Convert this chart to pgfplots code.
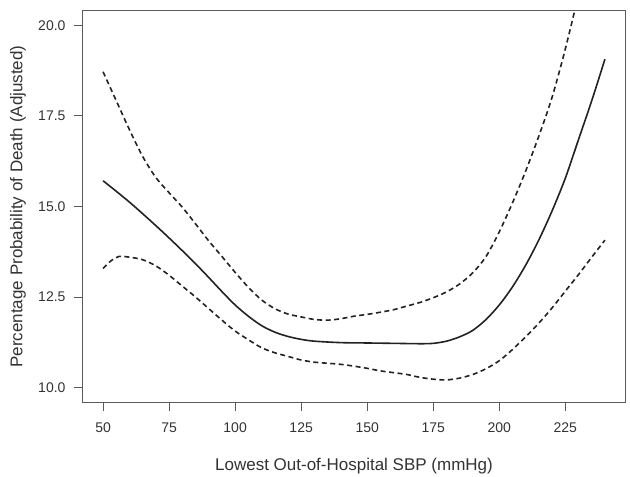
\documentclass[border=0pt]{standalone}
\usepackage{fontspec}
\setmainfont{Liberation Sans}
\usepackage{pgfplots}
\pgfplotsset{compat=1.18}

\definecolor{frame}{HTML}{5A5A5A}
\definecolor{curve}{HTML}{222222}
\definecolor{txt}{HTML}{333333}

\begin{document}
\begin{tikzpicture}[x=1pt,y=1pt]
\path[use as bounding box] (-83,-75) rectangle (547,402);
\begin{axis}[
  at={(0,0)}, anchor=south west,
  scale only axis, width=542pt, height=391pt,
  xmin=42.4, xmax=247.6, ymin=9.6, ymax=20.4,
  axis line style={frame, line width=1pt},
  tick style={frame, line width=1pt},
  tick align=outside, tick pos=left,
  major tick length=9pt,
  xtick={50,75,...,225},
  ytick={10,12.5,15,17.5,20},
  /pgf/number format/assume math mode=true,
  yticklabel={\pgfmathprintnumber[fixed,fixed zerofill,precision=1]{\tick}},
  xticklabel={\pgfmathprintnumber[fixed]{\tick}},
  ticklabel style={font=\fontsize{14}{16}\selectfont, text=txt},
  xticklabel style={yshift=-8pt},
  yticklabel style={xshift=-5pt},
  xlabel={Lowest Out-of-Hospital SBP (mmHg)},
  ylabel={Percentage Probability of Death (Adjusted)},
  every axis x label/.style={at={(axis description cs:0.5,-0.1637)}, anchor=center,
    font=\fontsize{17}{20}\selectfont, text=txt},
  every axis y label/.style={at={(axis description cs:-0.1199,0.5)}, anchor=center, rotate=90,
    font=\fontsize{17}{20}\selectfont, text=txt},
  clip=true,
]
% adjusted estimate
\addplot[curve, line width=1.6pt, smooth] coordinates {
(50,15.71) (55,15.42) (60,15.12) (65,14.80) (70,14.47) (75,14.13) (80,13.78)
(85,13.42) (90,13.04) (95,12.65) (100,12.28) (105,11.97) (110,11.71) (115,11.53)
(120,11.41) (125,11.33) (130,11.28) (140,11.24) (150,11.23) (160,11.22)
(170,11.21) (175,11.22) (180,11.28) (185,11.40) (190,11.58) (195,11.88)
(200,12.28) (205,12.78) (210,13.38) (215,14.08) (220,14.88) (225,15.78)
(230,16.85) (235,17.92) (240,19.07)
};
% upper confidence limit
\addplot[curve, line width=1.6pt, dash pattern=on 5pt off 3.5pt, smooth] coordinates {
(50,18.72) (55,17.92) (60,17.12) (65,16.38) (70,15.80) (75,15.38) (80,14.98)
(85,14.52) (90,14.05) (95,13.62) (100,13.18) (105,12.77) (110,12.42) (115,12.18)
(120,12.03) (125,11.95) (130,11.88) (135,11.86) (140,11.90) (145,11.97)
(150,12.02) (155,12.08) (160,12.15) (165,12.25) (170,12.35) (175,12.48)
(180,12.64) (185,12.86) (190,13.17) (195,13.62) (200,14.30) (205,15.10)
(210,15.98) (215,16.95) (220,18.02) (225,19.35) (230,20.85)
};
% lower confidence limit
\addplot[curve, line width=1.6pt, dash pattern=on 5pt off 3.5pt, smooth] coordinates {
(50,13.29) (53,13.50) (56,13.62) (60,13.60) (65,13.53) (70,13.36) (75,13.10)
(80,12.80) (85,12.50) (90,12.18) (95,11.86) (100,11.56) (105,11.32) (110,11.10)
(115,10.96) (120,10.86) (125,10.76) (130,10.70) (135,10.67) (140,10.64)
(145,10.59) (150,10.53) (155,10.46) (160,10.41) (165,10.36) (170,10.28)
(175,10.23) (180,10.21) (185,10.26) (190,10.36) (195,10.52) (200,10.74)
(205,11.05) (210,11.40) (215,11.78) (220,12.20) (225,12.66) (230,13.12)
(235,13.60) (240,14.07)
};
\end{axis}
\end{tikzpicture}
\end{document}
